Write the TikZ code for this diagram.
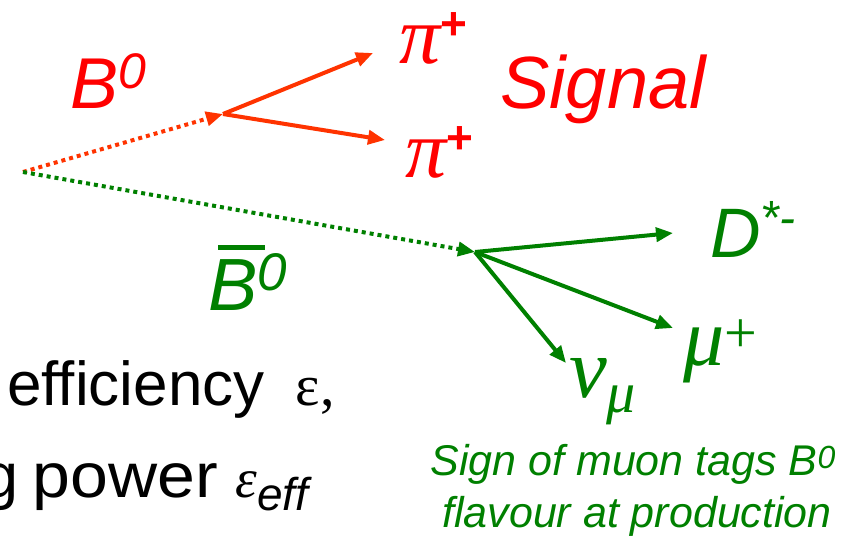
\documentclass[tikz,border=0pt]{standalone}
\usepackage{fontspec}
\setmainfont{Liberation Sans}
\newfontfamily\grkfont{Liberation Serif}
\usetikzlibrary{arrows.meta}
\definecolor{sigred}{RGB}{255,0,0}
\definecolor{trkred}{RGB}{255,51,0}
\definecolor{taggreen}{RGB}{0,128,0}
\newcommand{\fsz}[1]{\fontsize{#1}{#1}\selectfont}

\begin{document}
\begin{tikzpicture}[x=1pt,y=-1pt,
        lbl/.style={inner sep=0pt, anchor=base west},
        decay/.style={line width=4pt, -{Triangle[length=17pt,width=14pt]}},
        flight/.style={decay, dash pattern=on 4pt off 4pt}]
        \useasboundingbox (0,0) rectangle (845,536);
        % vertices
            \coordinate (pv) at (23,172);
            \coordinate (sigv) at (223,114);
            \coordinate (tagv) at (475,252);
            \coordinate (pia) at (373,53);
            \coordinate (pib) at (385,140);
            \coordinate (dst) at (673,233);
            \coordinate (mup) at (673,328);
            \coordinate (nup) at (566,363);
        % lines
            \draw[flight, trkred] (pv) -- (sigv);
            \draw[decay, trkred] (sigv) -- (pia);
            \draw[decay, trkred] (sigv) -- (pib);
            \draw[flight, taggreen] (pv) -- (tagv);
            \draw[decay, taggreen] (tagv) -- (dst);
            \draw[decay, taggreen] (tagv) -- (mup);
            \draw[decay, taggreen] (tagv) -- (nup);
        %nodes
            \node[lbl, sigred] (bsig) at (70,108) {\fsz{72}\itshape B\raisebox{20pt}{\fsz{50}0}};
            \node[lbl, sigred] (signal) at (500,108) {\fsz{74}\itshape Signal};
            \node[lbl, sigred] (piup) at (399,63) {\grkfont\itshape\fsz{82}π\raisebox{24pt}{\normalfont\bfseries\fsz{46}+}};
            \node[lbl, sigred] (pidn) at (405,177) {\grkfont\itshape\fsz{82}π\raisebox{24pt}{\normalfont\bfseries\fsz{46}+}};
            \node[lbl, taggreen] (bbar) at (208,310) {\fsz{74}\itshape\rlap{\hspace{10pt}\rule[60pt]{47pt}{5pt}}B\raisebox{20pt}{\fsz{53}0}};
            \node[lbl, taggreen] (dlab) at (710,257) {\fsz{70}\itshape D\raisebox{23pt}{\fsz{48}*-}};
            \node[lbl, taggreen] (mulab) at (683,365) {\grkfont\itshape\fsz{82}μ\raisebox{13pt}{\upshape\fsz{58}+}};
            \node[lbl, taggreen] (nulab) at (569,397) {\grkfont\itshape\fsz{85}ν\raisebox{-15pt}{\fsz{58}μ}};
            \node[lbl, taggreen, anchor=base] (tagla) at (633,475) {\fsz{43}\itshape Sign of muon tags B\raisebox{7pt}{\fsz{32}0}};
                \node[lbl, taggreen, anchor=base] (taglb) at (637,527) {\fsz{43}\itshape flavour at production};
            \node[lbl] (effy) at (7,405) {\fsz{62}efficiency\hspace{14pt} {\grkfont\fsz{58}ε,}};
                \node[lbl] (tpow) at (-17,497) {\fsz{63}g\hspace{-3pt} \scalebox{1.08}[1]{power} {\grkfont\itshape\fsz{55}ε}\raisebox{-13pt}{\itshape\fsz{46}eff}};
\end{tikzpicture}
\end{document}
